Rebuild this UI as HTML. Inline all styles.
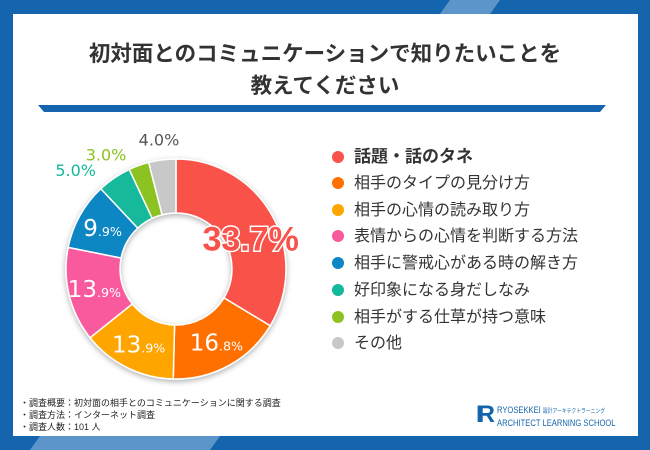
<!DOCTYPE html>
<html><head><meta charset="utf-8">
<style>
body{margin:0;width:650px;height:450px;overflow:hidden;background:#1565ae;font-family:"Liberation Sans","Noto Sans CJK JP",sans-serif;}
#panel{position:absolute;left:13px;top:14px;width:625px;height:422px;background:#fff;}
.t{position:absolute;left:0;width:650px;text-align:center;font-weight:bold;font-size:21.5px;color:#333;}
.leg{position:absolute;left:332px;font-size:16px;color:#333;height:20px;line-height:20px;white-space:nowrap;}
.leg i{display:inline-block;width:12px;height:12px;border-radius:50%;margin-right:10px;vertical-align:-1px;}
.note{position:absolute;left:20px;font-size:9px;color:#222;}
</style></head><body>
<svg width="650" height="450" style="position:absolute;left:0;top:0">
<polygon points="450,0 500,0 490,14 440,14" fill="#5b95c9"/>
<polygon points="40,436 220,436 210,450 30,450" fill="#5b95c9"/>
</svg>
<div id="panel"></div>
<div class="t" style="top:37px">初対面とのコミュニケーションで知りたいことを</div>
<div class="t" style="top:69px">教えてください</div>
<svg width="650" height="450" style="position:absolute;left:0;top:0" id="chart">
<polygon points="38,105 606,105 600,112 44,112" fill="#1565ae"/>
<defs><filter id="sh" x="-20%" y="-20%" width="140%" height="140%"><feDropShadow dx="0" dy="2" stdDeviation="3" flood-color="#000" flood-opacity="0.3"/></filter></defs>
<g id="slices" filter="url(#sh)"></g>
<g id="labels"></g>
</svg>
<div class="leg" style="top:147px;font-weight:bold;font-size:17px"><i style="background:#f9524a"></i>話題・話のタネ</div>
<div class="leg" style="top:174px"><i style="background:#ff7000"></i>相手のタイプの見分け方</div>
<div class="leg" style="top:201px"><i style="background:#ffa500"></i>相手の心情の読み取り方</div>
<div class="leg" style="top:227px"><i style="background:#f95a9e"></i>表情からの心情を判断する方法</div>
<div class="leg" style="top:254px"><i style="background:#0c86c4"></i>相手に警戒心がある時の解き方</div>
<div class="leg" style="top:281px"><i style="background:#14b99b"></i>好印象になる身だしなみ</div>
<div class="leg" style="top:308px"><i style="background:#8cc220"></i>相手がする仕草が持つ意味</div>
<div class="leg" style="top:334px"><i style="background:#c8c8c8"></i>その他</div>
<div class="note" style="top:396px">・調査概要：初対面の相手とのコミュニケーションに関する調査</div>
<div class="note" style="top:408px">・調査方法：インターネット調査</div>
<div class="note" style="top:420px">・調査人数：101 人</div>
<div style="position:absolute;left:476px;top:403px;color:#1565ae;font-size:24px;font-weight:bold;line-height:24px;letter-spacing:-5px">IR</div>
<div style="position:absolute;left:497px;top:405px;color:#1565ae;font-size:9.5px;line-height:11px;white-space:nowrap;transform:scaleX(0.8);transform-origin:left top">RYOSEKKEI <span style="font-size:6px">設計アーキテクトラーニング</span><br>ARCHITECT LEARNING SCHOOL</div>
<script>
const categories=["話題・話のタネ","相手のタイプの見分け方","相手の心情の読み取り方","表情からの心情を判断する方法","相手に警戒心がある時の解き方","好印象になる身だしなみ","相手がする仕草が持つ意味","その他"];
const values=[33.7,16.8,13.9,13.9,9.9,5.0,3.0,4.0];
const colors=["#f9524a","#ff7000","#ffa500","#f95a9e","#0c86c4","#14b99b","#8cc220","#c8c8c8"];
const cx=176,cy=269,R=110,r0=56;
const NS="http://www.w3.org/2000/svg";
const total=values.reduce((a,b)=>a+b,0);
const g=document.getElementById('slices'),gl=document.getElementById('labels');
function pt(a,rad){return [cx+rad*Math.sin(a),cy-rad*Math.cos(a)];}
let acc=0;
values.forEach((v,i)=>{
  const a0=acc/total*2*Math.PI,a1=(acc+v)/total*2*Math.PI;acc+=v;
  const [x0,y0]=pt(a0,R),[x1,y1]=pt(a1,R),[x2,y2]=pt(a1,r0),[x3,y3]=pt(a0,r0);
  const lg=(a1-a0)>Math.PI?1:0;
  const p=document.createElementNS(NS,'path');
  p.setAttribute('d',`M${x0},${y0}A${R},${R} 0 ${lg} 1 ${x1},${y1}L${x2},${y2}A${r0},${r0} 0 ${lg} 0 ${x3},${y3}Z`);
  p.setAttribute('fill',colors[i]);p.setAttribute('stroke','#fff');p.setAttribute('stroke-width','1.5');
  
  
  g.appendChild(p);
  const am=(a0+a1)/2;
  const t=document.createElementNS(NS,'text');
  const s=v.toFixed(1).split('.');
  let pos,size,fill,big=false,fam='"DejaVu Sans",sans-serif';
  if(i===0){pos=pt(am,80);pos[0]+=5;pos[1]+=9;size=34;fill=colors[0];big=true;fam='"Liberation Sans",sans-serif';}
  else if(v>=9){pos=pt(am,84);size=23;fill='#fff';}
  else{pos=pt(am,R+26);if(Math.sin(am)<-0.2){pos[0]-=24;pos[1]+=14;}else{pos[1]+=6;}size=16;fill=colors[i]==='#c8c8c8'?'#555':colors[i];}
  t.setAttribute('x',pos[0]);t.setAttribute('y',pos[1]+size*0.35);
  t.setAttribute('text-anchor','middle');t.setAttribute('fill',fill);
  t.setAttribute('font-size',size);t.setAttribute('font-family',fam);
  if(big){t.setAttribute('font-weight','bold');t.setAttribute('stroke','#fff');t.setAttribute('stroke-width','3');t.setAttribute('paint-order','stroke');t.textContent=v.toFixed(1)+'%';}
  else if(v>=9){t.innerHTML=s[0]+'<tspan font-size="'+(size*0.55)+'">.'+s[1]+'%</tspan>';}
  else t.textContent=v.toFixed(1)+'%';
  
  
  gl.appendChild(t);
});
</script>
</body></html>
